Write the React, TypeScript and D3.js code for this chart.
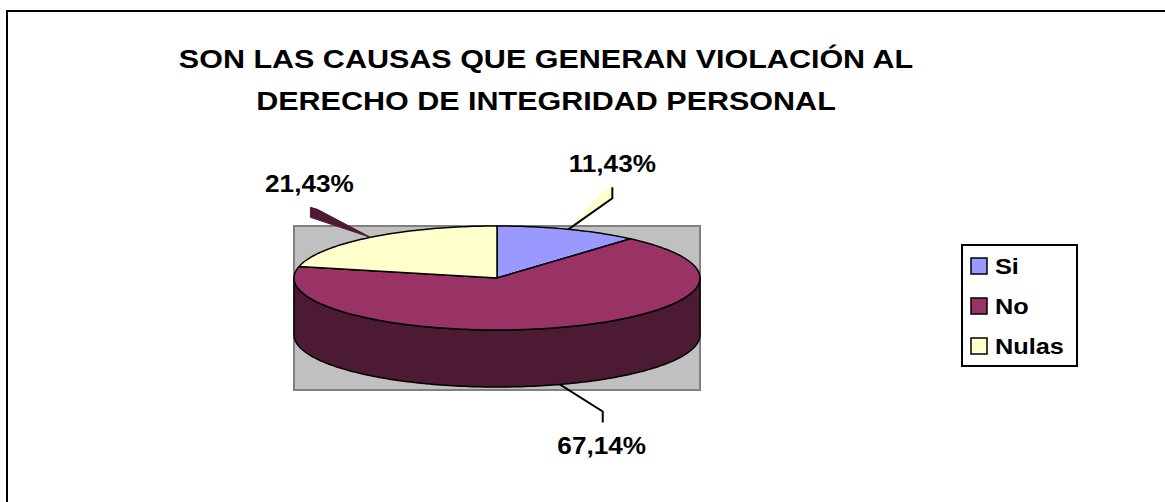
import React, { useEffect, useRef } from "react";
import * as d3 from "d3";

// data
const categories = ["Si", "No", "Nulas"];
const percentages = [11.43, 67.14, 21.43];
const valueLabels = ["11,43%", "67,14%", "21,43%"];
const titleLines = [
  "SON LAS CAUSAS QUE GENERAN VIOLACIÓN AL",
  "DERECHO DE INTEGRIDAD PERSONAL",
];

const topColors = ["#9999FF", "#993366", "#FFFFCC"];
const sideColors = ["#5C5C99", "#4D1A33", "#99997A"];

// label leader layout: elbow offset from the slice anchor, then a short vertical tick
const leaderLayout = [
  { dx: 44, dy: -31, tick: -11, textDx: 0, textDy: -15 },
  { dx: 43, dy: 27, tick: 11, textDx: -1, textDy: 32 },
  { dx: -60, dy: -20, tick: -10, textDx: -1, textDy: -15 },
];

const W = 1165;
const H = 502;
const FONT = "'Liberation Sans', Arial, Helvetica, sans-serif";
// the source picture was stretched sideways, so text is wider than its height suggests
const STRETCH = 1.22;
const LABEL_STRETCH = 1.09;
const LEGEND_STRETCH = 1.15;

const App: React.FC = () => {
  const ref = useRef<SVGSVGElement>(null);

  useEffect(() => {
    const svg = d3.select(ref.current);
    svg.selectAll("*").remove();

    const stretchText = (sel: any, k: number) => {
      sel.each(function (this: SVGTextElement) {
        const w = this.getComputedTextLength();
        d3.select(this)
          .attr("textLength", w * k)
          .attr("lengthAdjust", "spacingAndGlyphs");
      });
    };

    // outer frame (cut by the picture at right and bottom)
    svg
      .append("rect")
      .attr("x", 7)
      .attr("y", 11)
      .attr("width", W + 20)
      .attr("height", H + 20)
      .attr("fill", "#fff")
      .attr("stroke", "#000")
      .attr("stroke-width", 2);

    // title
    const title = svg
      .append("g")
      .selectAll("text")
      .data(titleLines)
      .join("text")
      .attr("x", 546)
      .attr("y", (_, i) => 68 + i * 42)
      .attr("text-anchor", "middle")
      .attr("font-family", FONT)
      .attr("font-weight", "bold")
      .attr("font-size", 25)
      .text((d) => d);
    stretchText(title, STRETCH);

    // pie geometry
    const cx = 497,
      cy = 278,
      rx = 203,
      ry = 52,
      depth = 57;

    // plot area
    svg
      .append("rect")
      .attr("x", cx - rx)
      .attr("y", cy - ry)
      .attr("width", rx * 2)
      .attr("height", ry * 2 + depth + 3)
      .attr("fill", "#C0C0C0")
      .attr("stroke", "#808080")
      .attr("stroke-width", 2);

    const pie = d3
      .pie<number>()
      .sort(null)
      .value((d) => d);
    const arcs = pie(percentages);

    const pt = (a: number, dy = 0): [number, number] => [
      cx + rx * Math.sin(a),
      cy - ry * Math.cos(a) + dy,
    ];
    const sample = (a0: number, a1: number, dy = 0) => {
      const n = Math.max(2, Math.ceil(Math.abs(a1 - a0) / 0.02));
      return d3.range(n + 1).map((i) => pt(a0 + ((a1 - a0) * i) / n, dy));
    };
    const line = d3.line();

    // side walls (front half only: angles PI/2 .. 3PI/2)
    const g = svg.append("g");
    arcs.forEach((a, i) => {
      const a0 = Math.max(a.startAngle, Math.PI / 2);
      const a1 = Math.min(a.endAngle, (3 * Math.PI) / 2);
      if (a1 <= a0) return;
      const pts = [...sample(a0, a1), ...sample(a1, a0, depth)];
      g.append("path")
        .attr("d", line(pts) + "Z")
        .attr("fill", sideColors[i])
        .attr("stroke", "#000")
        .attr("stroke-width", 1.5)
        .attr("stroke-linejoin", "round");
    });

    // top faces
    arcs.forEach((a, i) => {
      const pts: [number, number][] = [[cx, cy], ...sample(a.startAngle, a.endAngle)];
      g.append("path")
        .attr("d", line(pts) + "Z")
        .attr("fill", topColors[i])
        .attr("stroke", "#000")
        .attr("stroke-width", 1.5)
        .attr("stroke-linejoin", "round");
    });

    // leaders and labels
    const lg = svg.append("g");
    arcs.forEach((a, i) => {
      const mid = (a.startAngle + a.endAngle) / 2;
      const front = Math.cos(mid) < 0;
      const anchor = pt(mid, front ? depth : 0);
      const L = leaderLayout[i];
      const elbow: [number, number] = [anchor[0] + L.dx, anchor[1] + L.dy];
      const end: [number, number] = [elbow[0], elbow[1] + L.tick];
      if (i === 0) {
        lg.append("path")
          .attr("d", line([anchor, [end[0] - 9, end[1] + 4], end, elbow]) + "Z")
          .attr("fill", topColors[2]);
        lg.append("path")
          .attr("d", line([anchor, elbow, end]))
          .attr("fill", "none")
          .attr("stroke", "#000")
          .attr("stroke-width", 2);
      } else if (i === 2) {
        lg.append("path")
          .attr("d", line([end, [end[0] + 7, end[1] + 2], anchor, elbow]) + "Z")
          .attr("fill", sideColors[1])
          .attr("stroke", sideColors[1])
          .attr("stroke-width", 1);
      } else {
        lg.append("path")
          .attr("d", line([anchor, elbow, end]))
          .attr("fill", "none")
          .attr("stroke", "#000")
          .attr("stroke-width", 2);
      }
      const t = lg
        .append("text")
        .attr("x", end[0] + L.textDx)
        .attr("y", end[1] + L.textDy)
        .attr("text-anchor", "middle")
        .attr("font-family", FONT)
        .attr("font-weight", "bold")
        .attr("font-size", 24)
        .text(valueLabels[i]);
      stretchText(t, LABEL_STRETCH);
    });

    // legend
    const leg = svg.append("g").attr("transform", "translate(962,245)");
    leg
      .append("rect")
      .attr("width", 115)
      .attr("height", 121)
      .attr("fill", "#fff")
      .attr("stroke", "#000")
      .attr("stroke-width", 2);
    const items = leg
      .selectAll("g.item")
      .data(categories)
      .join("g")
      .attr("class", "item")
      .attr("transform", (_, i) => `translate(9,${13 + i * 40})`);
    items
      .append("rect")
      .attr("x", 0)
      .attr("y", 0)
      .attr("width", 16)
      .attr("height", 16)
      .attr("fill", (_, i) => topColors[i])
      .attr("stroke", "#000")
      .attr("stroke-width", 1.5);
    const legText = items
      .append("text")
      .attr("x", 24)
      .attr("y", 16)
      .attr("font-family", FONT)
      .attr("font-weight", "bold")
      .attr("font-size", 22)
      .text((d) => d);
    stretchText(legText, LEGEND_STRETCH);
  }, []);

  return (
    <svg
      ref={ref}
      width={W}
      height={H}
      style={{ position: "absolute", left: 0, top: 0, background: "#fff" }}
    />
  );
};

export default App;
